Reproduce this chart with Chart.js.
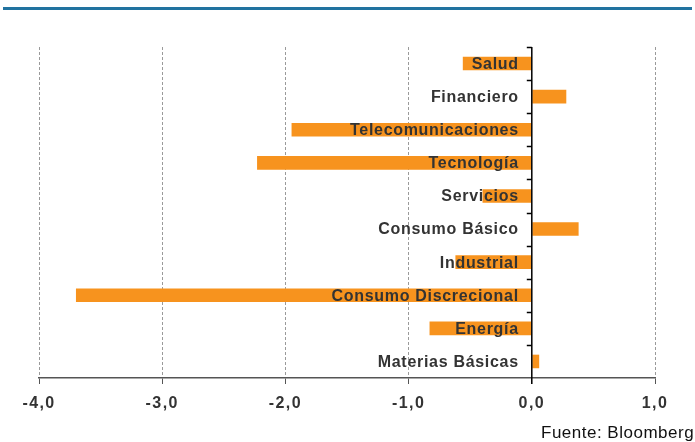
<!DOCTYPE html>
<html>
<head>
<meta charset="utf-8">
<script src="https://cdn.jsdelivr.net/npm/chart.js@4"></script>
<style>
  html, body { margin: 0; padding: 0; background: #fff; }
  #wrap { position: relative; width: 695px; height: 442px; }
  #topline { position: absolute; left: 3px; top: 7px; width: 689px; height: 3px; background: #2173A0; }
  #source { position: absolute; left: 541px; top: 423px; font: 17px "Liberation Sans", Arial, sans-serif; letter-spacing: 0.5px; color: #111; white-space: nowrap; }
</style>
</head>
<body>
<div id="wrap">
  <canvas id="c" width="695" height="442"></canvas>
  <div id="topline"></div>
  <div id="source">Fuente: Bloomberg</div>
</div>
<script>
// Sectores y variación
const sectors = ['Salud', 'Financiero', 'Telecomunicaciones', 'Tecnología', 'Servicios',
                 'Consumo Básico', 'Industrial', 'Consumo Discrecional', 'Energía', 'Materias Básicas'];
const changes = [-0.56, 0.28, -1.95, -2.23, -0.40, 0.38, -0.62, -3.70, -0.83, 0.06];
const axisMin = -4;
const axisMax = 1;

const TEXT = '#333333';
const BAR = '#F7931E';

// Draws the zero axis with its category ticks and the sector names beside it
const zeroAxisLabels = {
  id: 'zeroAxisLabels',
  beforeDraw(chart) {
    chart.ctx.letterSpacing = '1.4px';
  },
  afterDatasetsDraw(chart) {
    const ctx = chart.ctx;
    const xs = chart.scales.x, ys = chart.scales.y;
    const x0 = xs.getPixelForValue(0);
    const top = chart.chartArea.top, bottom = chart.chartArea.bottom;
    const step = (bottom - top) / sectors.length;
    ctx.save();
    ctx.letterSpacing = '0px';
    ctx.strokeStyle = '#000';
    ctx.lineWidth = 1.5;
    ctx.beginPath();
    ctx.moveTo(x0, top);
    ctx.lineTo(x0, bottom + 6);
    for (let i = 0; i < sectors.length; i++) {
      const y = Math.round(top + i * step) + 0.5;
      ctx.moveTo(x0 - 5, y);
      ctx.lineTo(x0, y);
    }
    ctx.stroke();

    ctx.letterSpacing = '0.7px';
    ctx.font = 'bold 16px "Liberation Sans", Arial, sans-serif';
    ctx.fillStyle = TEXT;
    ctx.textAlign = 'right';
    ctx.textBaseline = 'middle';
    sectors.forEach((name, i) => {
      const y = ys.getPixelForValue(i);
      ctx.fillText(name, x0 - 13, y + 1);
    });
    ctx.restore();
  },
  afterDraw(chart) {
    chart.ctx.letterSpacing = '0px';
  }
};

new Chart(document.getElementById('c'), {
  type: 'bar',
  data: {
    labels: sectors,
    datasets: [{
      data: changes,
      backgroundColor: BAR,
      borderWidth: 0,
      barPercentage: 0.41,
      categoryPercentage: 1.0
    }]
  },
  options: {
    indexAxis: 'y',
    responsive: false,
    animation: false,
    devicePixelRatio: 1,
    layout: { padding: { left: 39, right: 40, top: 47, bottom: 0 } },
    plugins: { legend: { display: false }, tooltip: { enabled: false } },
    scales: {
      x: {
        min: axisMin,
        max: axisMax,
        afterFit(scale) { scale.height = 64; },
        ticks: {
          stepSize: 1,
          padding: 10,
          color: TEXT,
          font: { family: '"Liberation Sans", Arial, sans-serif', size: 16, weight: 'bold' },
          callback: (v) => Number(v).toFixed(1).replace('.', ',')
        },
        grid: {
          color: (c) => (c.tick && c.tick.value === 0) ? 'rgba(0,0,0,0)' : '#9a9a9a',
          lineWidth: 1,
          tickLength: 6,
          tickColor: '#555',
          tickBorderDash: [],
          drawTicks: true
        },
        border: { display: true, color: '#555', width: 1.5, dash: [3, 2] }
      },
      y: {
        display: false
      }
    }
  },
  plugins: [zeroAxisLabels]
});
</script>
</body>
</html>
